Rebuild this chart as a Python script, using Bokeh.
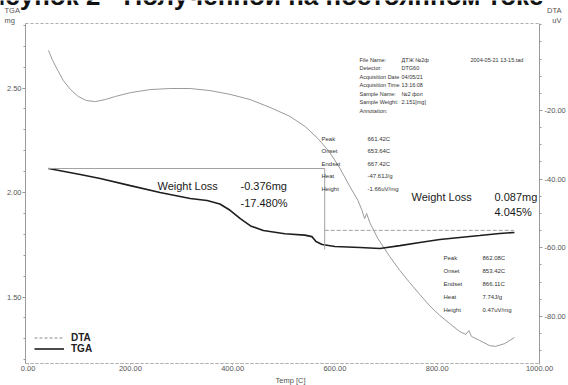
from bokeh.plotting import figure
from bokeh.models import (Range1d, LinearAxis, FixedTicker, NumeralTickFormatter,
                          Label, Legend, LegendItem)
from bokeh.embed import file_html
from bokeh.resources import INLINE

# ---------------- data ----------------
tga_temp = [40, 102, 141, 200, 258, 317, 350, 375, 395, 415, 435, 460, 502, 541,
            555, 563, 575, 600, 649, 688, 727, 766, 805, 844, 883, 922, 951]
tga_mg = [2.115, 2.086, 2.067, 2.033, 2.000, 1.971, 1.962, 1.945, 1.915, 1.875,
          1.840, 1.818, 1.803, 1.796, 1.789, 1.766, 1.751, 1.742, 1.737, 1.732,
          1.746, 1.761, 1.775, 1.785, 1.794, 1.804, 1.809]

dta_temp = [40, 48, 58, 69, 83, 98, 114, 132, 151, 171, 200, 239, 278, 317, 356,
            395, 434, 473, 512, 542, 567, 590, 610, 629, 645, 653, 658, 662, 668,
            684, 707, 727, 746, 766, 785, 805, 824, 844, 856, 862, 867, 883, 903,
            914, 932, 951]
dta_uv = [-2.5, -5.4, -8.3, -11.3, -13.9, -15.9, -17.1, -17.4, -16.8, -15.9,
          -14.8, -13.9, -13.6, -13.6, -14.2, -15.3, -16.8, -19.1, -21.7, -24.7,
          -28.2, -32.2, -36.9, -42.1, -46.2, -49.1, -51.5, -50.0, -52.6, -57.3,
          -62.5, -66.6, -70.1, -73.6, -76.8, -79.7, -82.0, -84.4, -85.2, -84.1,
          -85.8, -87.0, -88.5, -88.7, -87.9, -86.1]

# weight-loss analysis
wl1_temp = [40, 580]
wl1_level = [2.115, 2.115]
wl1_drop_temp = [580, 580]
wl1_drop_mg = [2.115, 1.728]
wl2_temp = [580, 950]
wl2_level = [1.819, 1.819]

x_ticks = [0, 200, 400, 600, 800, 1000]
tga_ticks = [1.5, 2.0, 2.5]
tga_minor = [1.2, 1.3, 1.4, 1.6, 1.7, 1.8, 1.9, 2.1, 2.2, 2.3, 2.4, 2.6, 2.7, 2.8]
dta_ticks = [-80, -60, -40, -20]
dta_minor = [-90, -85, -75, -70, -65, -55, -50, -45, -35, -30, -25, -15, -10, -5, 0, 5]

info_labels = ["File Name:", "Detector:", "Acquisition Date", "Acquisition Time",
               "Sample Name:", "Sample Weight:", "Annotation:"]
info_values = ["ДТЖ №2ф", "DTG60", "04/05/21", "13:16:08", "№2  фол", "2.151[mg]", ""]
peak_labels = ["Peak", "Onset", "Endset", "Heat", "Height"]
peak1_values = ["661.42C", "653.64C", "667.42C", "-47.61J/g", "-1.66uV/mg"]
peak2_values = ["862.08C", "853.42C", "866.11C", "7.74J/g", "0.47uV/mg"]

# ---------------- layout (canvas pixel coordinates) ----------------
W, H = 568, 385
FL, FT, FW, FH = 25, 23, 515, 340
X0, X1 = -5, 1000
YL0, YL1 = 1.182, 2.8086
YR0, YR1 = -93.69, 5.34
SANS = "Liberation Sans"

p = figure(width=W, height=H, output_backend="svg", toolbar_location=None,
           x_range=Range1d(X0, X1), y_range=Range1d(YL0, YL1),
           min_border_left=FL, min_border_right=W - FL - FW,
           min_border_top=FT, min_border_bottom=H - FT - FH)
p.background_fill_color = "white"
p.border_fill_color = "white"
p.outline_line_color = "#b0b0b0"
p.outline_line_dash = "3 2"
p.xgrid.visible = False
p.ygrid.visible = False
p.extra_y_ranges = {"dta": Range1d(YR0, YR1)}

# left axis (TGA)
ya = p.yaxis[0]
ya.ticker = FixedTicker(ticks=tga_ticks, minor_ticks=tga_minor)
ya.formatter = NumeralTickFormatter(format="0.00")
# bottom axis
xa = p.xaxis[0]
xa.ticker = FixedTicker(ticks=x_ticks, minor_ticks=[])
xa.formatter = NumeralTickFormatter(format="0.00")
# right axis (DTA)
ra = LinearAxis(y_range_name="dta",
                ticker=FixedTicker(ticks=dta_ticks, minor_ticks=dta_minor),
                formatter=NumeralTickFormatter(format="0.00"))
p.add_layout(ra, "right")

for ax in (ya, xa, ra):
    ax.axis_line_color = "#9a9a9a"
    ax.major_tick_line_color = "#9a9a9a"
    ax.minor_tick_line_color = "#9a9a9a"
    ax.major_tick_in = 0
    ax.major_tick_out = 3
    ax.minor_tick_in = 0
    ax.minor_tick_out = 2
    ax.major_label_text_font = SANS
    ax.major_label_text_font_size = "7.5px"
    ax.major_label_text_color = "#555555"
    ax.major_label_standoff = 1
xa.axis_line_dash = "3 2"
xa.axis_line_color = "#b0b0b0"
xa.major_tick_out = 1
ra.major_label_standoff = 2

# curves
dta_r = p.line(dta_temp, dta_uv, y_range_name="dta", line_color="#9a9a9a", line_width=1)
tga_r = p.line(tga_temp, tga_mg, line_color="#1e1e1e", line_width=1.6)

# analysis lines
p.line(wl1_temp, wl1_level, line_color="#a0a0a0", line_width=1)
p.line(wl1_drop_temp, wl1_drop_mg, line_color="#a0a0a0", line_width=1)
p.line(wl2_temp, wl2_level, line_color="#a0a0a0", line_width=1, line_dash="4 2")

# legend (DTA sample drawn dashed as in the original)
dta_leg = p.line([float("nan")], [float("nan")], line_color="#8a8a8a",
                 line_width=1, line_dash="3 2")
legend = Legend(items=[LegendItem(label="DTA", renderers=[dta_leg]),
                       LegendItem(label="TGA", renderers=[tga_r])],
                location=(9, 9), padding=0, margin=0, spacing=0,
                glyph_width=30, glyph_height=11, label_standoff=7,
                label_text_font=SANS, label_text_font_size="10px",
                label_text_font_style="bold", label_text_color="#222222",
                background_fill_alpha=0, border_line_alpha=0)
p.add_layout(legend)

# ---------------- transparent overlay for the free texts (pixel coordinates) ----------------
ov = figure(width=W, height=H, output_backend="svg", toolbar_location=None,
            x_range=Range1d(0, W), y_range=Range1d(H, 0),
            x_axis_type=None, y_axis_type=None, min_border=0)
ov.xgrid.visible = False
ov.ygrid.visible = False
ov.outline_line_color = None
ov.background_fill_alpha = 0
ov.border_fill_alpha = 0
ov.styles = {"position": "absolute", "left": "0px", "top": "0px"}


def put(text, px, py, size, color="#333333", align="left", style="normal",
        baseline="middle"):
    ov.add_layout(Label(x=px, y=py, text=text, text_align=align,
                        text_baseline=baseline, text_font_size=size,
                        text_font=SANS, text_color=color,
                        text_font_style=style))


# title (cut at the top in the original)
put("Рисунок 2 - Полученной на постоянном токе", 543, -5, "26px", "#111111",
    align="right", style="bold")

# axis titles
put("TGA", 4, 10, "7.5px", "#555555")
put("mg", 4, 20, "7.5px", "#555555")
put("DTA", 561, 10, "7.5px", "#555555", align="right")
put("uV", 561, 20, "7.5px", "#555555", align="right")
put("Temp [C]", 290, 380, "7.5px", "#555555", align="center")

# file info block
for i, (lab, val) in enumerate(zip(info_labels, info_values)):
    yy = 59 + i * 8.5
    put(lab, 359, yy, "5.5px")
    if val:
        put(val, 401, yy, "5.5px")
put("2004-05-21 13-15.tad", 470, 59, "5.5px")

# peak blocks
for i, (lab, v1, v2) in enumerate(zip(peak_labels, peak1_values, peak2_values)):
    put(lab, 321, 138 + i * 12.6, "6px")
    put(v1, 367, 138 + i * 12.6, "6px")
    put(lab, 443, 257 + i * 13.0, "6px")
    put(v2, 482, 257 + i * 13.0, "6px")

# weight loss annotations
put("Weight Loss", 157, 185, "11px", "#1a1a1a")
put("-0.376mg", 240, 185, "11px", "#1a1a1a")
put("-17.480%", 240, 202, "11px", "#1a1a1a")
put("Weight Loss", 411, 196, "11px", "#1a1a1a")
put("0.087mg", 494, 196, "11px", "#1a1a1a")
put("4.045%", 494, 211, "11px", "#1a1a1a")

open("out.html", "w").write(file_html([p, ov], INLINE))
